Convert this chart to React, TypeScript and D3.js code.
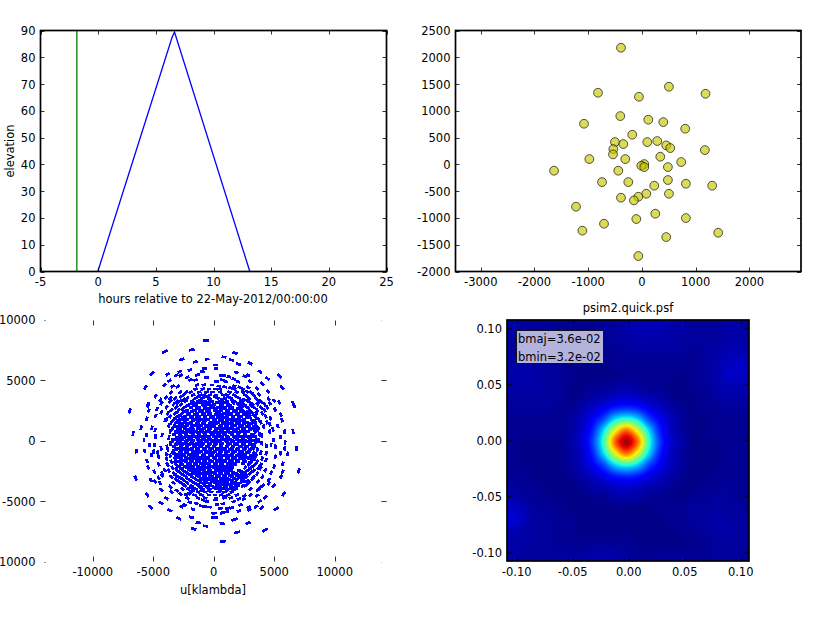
import React, { useMemo } from "react";
import * as d3 from "d3";

const elevHours = [-0.03, 6.41, 6.62, 13.15];
const elevDeg = [0, 87.5, 89.4, 0];
const markerHour = -1.85;
const elevXTicks = [-5, 0, 5, 10, 15, 20, 25];
const elevYTicks = [0, 10, 20, 30, 40, 50, 60, 70, 80, 90];

const antX = [-390, 502, -818, 1183, -56, -403, -1078, 118, 397, 805, -180, -502, -347, 99, 285, 452, 527, 1171, -533, -539, -979, -310, 341, 731, 43, -12, 43, 483, -1636, -440, 483, -743, -254, 818, 229, 1307, 502, 81, -68, -390, -149, -1227, 248, -706, -105, 818, -1109, 1419, 452, -68];
const antY = [2178, 1450, 1338, 1319, 1263, 902, 759, 834, 790, 666, 554, 417, 380, 417, 436, 355, 305, 268, 286, 187, 100, 100, 143, 44, 6, -25, -50, -50, -118, -118, -292, -330, -330, -361, -398, -398, -548, -548, -604, -622, -672, -790, -921, -1108, -1020, -1002, -1238, -1276, -1357, -1711];
const antXTicks = [-3000, -2000, -1000, 0, 1000, 2000];
const antYTicks = [-2000, -1500, -1000, -500, 0, 500, 1000, 1500, 2000, 2500];

const uvTicks = [-10000, -5000, 0, 5000, 10000];
// uv samples in thousands of klambda: sparse outskirts read one by one
const uvOuter: [number, number][] = [
  [-0.66,8.25],[-1.82,7.5],[-4.05,7.34],[-2.64,6.7],[-0.55,6.73],[-1.54,6.5],[-5.1,5.52],[-3.8,5.47],[-2.8,5.69],[-1.98,5.82],[-3.11,5.38],[-2.73,5.38],[-2.18,5.22],[-1.3,5.44],[-0.77,5.96],[-0.94,5.7],
  [-5.65,4.37],[-4.08,4.59],[-3.66,4.94],[-3.4,4.47],[-2.98,4.47],[-2.29,3.98],[-4.79,3.68],[-3.94,3.54],[-3.53,3.98],[-2.78,3.98],[-5.42,3.02],[-4.41,3.35],[-4.33,3.07],[-3.58,3.48],[-3.03,3.2],[-0.6,5.2],[-1.38,5.41],[-1.93,5],[-1.5,5],[-1.38,4.59],[-0.83,4.59],[-0.13,4.59],
  [1.76,7.23],[0.85,6.9],[1.46,6.65],[2.04,6.3],[3,6.38],[0.14,6.24],[0.17,5.94],[1.87,5.63],[3.83,5.69],[5.45,5.33],[2.84,5.39],[2.56,5.3],[4.46,5.11],[0.83,5.36],[1.24,5.27],[0.6,5.36],[1.65,5.08],[2,4.86],[3,4.89],[4.02,4.7],[5.65,4.39],[0.72,5],[0.22,4.86],[1.02,4.86],[1.7,4.5],[2.15,4.39],[2.84,4.39],[3.58,4.31],[4.49,4.03],[0.41,4.5],[0.9,4.44],[0.14,4.25],[1.38,4.36],[3.09,3.98],[3.77,3.81],[2.75,4.03],[4.55,3.43],[5,3.29],[5.4,3.15],[6.56,3.07],[4.63,3.07],[3.72,3.2],
  [-6.94,2.44],[-5.43,2.87],[-5.37,2.47],[-4.68,2.6],[-4.82,2.03],[-5.54,1.8],[-4.33,2.33],[-4,1.69],[-6,1.06],[-5.1,1.06],[-4.85,0.87],[-6.67,0.59],[-5.56,0.46],[-4.82,0.32],[-5.76,0.04],[-4.27,0.46],[-5.32,-0.37],[-4.88,-0.37],[-4.35,-0.65],[-6.39,-0.87],[-5.7,-0.87],[-4.96,-0.92],[-4.63,-1],[-3.86,-0.51],[-5.15,-1.2],[-4.55,-1.34],[-3.91,-1.14],[-5.51,-1.69],[-5.42,-2.22],[-4.55,-1.97],[-4.9,-2.58],[-4.05,-2.44],[-4.27,-2.71],[-3.86,-1.97],
  [5.07,2.55],[5.54,2.13],[6.64,2.88],[4.41,2.74],[4.68,1.83],[5.65,1.69],[4.63,1.34],[5.29,1.2],[4.13,1.14],[4.9,0.92],[5.84,0.73],[6.56,0.73],[4.63,0.73],[5.51,0.29],[3.97,0.4],[4.96,0.04],[5.9,-0.18],[3.94,-0.23],[4.35,-0.43],[4.74,-0.37],[5.1,-0.51],[6.83,-0.65],[5.87,-0.65],[5.51,-1.06],[6.12,-1.09],[4.33,-1.06],[5.1,-1.34],[4.33,-1.61],[5.7,-1.91],[4.99,-2.16],[7.02,-2.52],[3.86,-2.3],[4.27,-2.44],[5.7,-2.58],[4.74,-2.66],
  [-6.45,-3.1],[-5.2,-3.27],[-4.85,-3.4],[-4.55,-3.1],[-4.44,-3.51],[-4.27,-2.9],[-4.35,-4.09],[-5.51,-4.5],[-3.91,-4.78],[-4.35,-5.17],[-5.26,-5.5],[-3.64,-5.77],[-3.58,-3.82],[-3.5,-4.23],[-2.89,-4.95],[-3.03,-4.15],[-2.75,-4.42],[-2.67,-5.47],[-2.42,-5.33],[-2.89,-6.43],[-1.85,-6.35],[-1.29,-6.79],[-1.65,-7.31],[-0.69,-7.07],[-1.71,-5.69],[-1.98,-5.1],[-1.43,-5.2],[-2.07,-4.42],[-2.18,-4.78],[-0.88,-4.92],[-0.55,-5.06],[-1.02,-5.41],[-0.69,-5.47],[-0.36,-5.5],[-0.06,-6],[-0.06,-6.36],
  [0.77,-8.33],[1.93,-7.59],[4.24,-7.4],[2.84,-6.82],[0.69,-6.87],[1.65,-6.57],[1.79,-6.5],[0.14,-6.38],[0.06,-6],[0.69,-6],[1.1,-5.88],[2.07,-5.82],[2.95,-5.74],[5.18,-5.63],[3.5,-5.47],[3.97,-5.55],[1.1,-5.6],[0.83,-5.93],[0.55,-5.6],[5.79,-4.42],[4.27,-4.7],[3.8,-5.03],[2.89,-5.52],[2.2,-5.33],[4.96,-3.73],[5.56,-2.99],[4.55,-3.26],[4.55,-3.54],[4.05,-3.73],[3.8,-3.9],[3.66,-3.4],[4.02,-3],[3.58,-4.56],[3.66,-4.09],[3.03,-4.5],[2.53,-4.56],[2.07,-4.83],[1.65,-5.05],[2.48,-4.83],[1.52,-5.55],[0.28,-5.27],[0.74,-5.24],[1.16,-5.6],[0.14,-4.92],[0.83,-4.64],[3.03,-4],[2.75,-3.35],[3.17,-3.18],[2.62,-3.73],
];
// dense centre: scanned row by row (v, list of u), thousands of klambda
const uvRows: [number, number[]][] = [
  [4.25,[-1.5,-0.9,-0.4,0.5,1.7,2.4]],
  [4,[-1.9,-1.2,-0.6,-0.1,0.5,1.3,1.9,2.4]],
  [3.75,[-2.5,-1.7,-1.1,-0.8,-0.3,0.2,0.8,1.1,1.7,2.6,3.3]],
  [3.5,[-3.2,-2.2,-1.5,-0.9,-0.4,0.3,0.9,1.4,2.1,2.9,3.5]],
  [3.25,[-3.6,-2.8,-2.3,-1.8,-1.3,-0.7,-0.2,0.5,1.1,1.7,2.3,2.8,3.9]],
  [3,[-3.3,-2.7,-2,-1.5,-0.9,-0.5,0,0.7,1.2,2,2.5,3.2,3.6,4.2]],
  [2.75,[-3.9,-3.1,-2.4,-1.9,-1.2,-0.7,-0.2,0.4,0.9,1.5,2.2,2.7,3.3,3.9]],
  [2.5,[-3.5,-2.9,-2.2,-1.6,-1,-0.4,0.1,0.6,1.2,1.7,2.4,3,3.6,4.2]],
  [2.25,[-3.8,-3.2,-2.6,-2.1,-1.4,-0.8,-0.3,0.3,0.9,1.4,2,2.6,3.2,3.5,4]],
  [2,[-3.6,-2.9,-2.4,-1.8,-1.2,-0.7,-0.1,0.5,1.1,1.6,2.2,2.8,3.4,4.3]],
  [1.75,[-3.9,-3.3,-2.7,-2.2,-1.6,-1,-0.5,0.1,0.7,1.3,1.9,2.5,3.1,3.7]],
  [1.5,[-3.5,-3,-2.4,-1.9,-1.3,-0.8,-0.2,0.3,0.9,1.5,2.1,2.7,3.2,3.9,4.4]],
  [1.25,[-3.7,-2.8,-2.2,-1.6,-1.1,-0.5,0,0.6,1.1,1.7,2.3,2.9,3.5]],
  [1,[-3.4,-2.9,-2.4,-1.9,-1.3,-0.8,-0.3,0.3,0.8,1.4,2,2.5,3.1,3.7]],
  [0.75,[-3.6,-3.1,-2.6,-2.1,-1.5,-1,-0.5,0.1,0.6,1.2,1.7,2.3,2.8,3.4]],
  [0.5,[-3.3,-2.8,-2.3,-1.7,-1.2,-0.7,-0.1,0.4,0.9,1.5,2,2.6,3.2,3.8]],
  [0.25,[-3.7,-3,-2.5,-2,-1.4,-0.9,-0.4,0.2,0.7,1.2,1.8,2.4,2.9,3.5]],
  [0,[-3.4,-2.8,-2.2,-1.7,-1.1,-0.6,-0.1,0.4,1,1.5,2.1,2.6,3.2,3.7]],
  [-0.25,[-3.6,-3,-2.5,-1.9,-1.4,-0.9,-0.3,0.2,0.7,1.3,1.8,2.4,3,3.4]],
  [-0.5,[-3.3,-2.7,-2.2,-1.6,-1.1,-0.5,0,0.6,1.1,1.6,2.2,2.7,3.3]],
  [-0.75,[-3.8,-3.1,-2.5,-2,-1.4,-0.8,-0.3,0.3,0.8,1.4,1.9,2.5,3,3.6]],
  [-1,[-3.4,-2.8,-2.3,-1.7,-1.2,-0.6,-0.1,0.5,1,1.6,2.2,2.8,3.3,3.9]],
  [-1.25,[-3.6,-3,-2.5,-1.9,-1.4,-0.9,-0.3,0.3,0.8,1.3,1.9,2.4,3.1,3.5]],
  [-1.5,[-3.9,-3.2,-2.7,-2.1,-1.6,-1,-0.5,0.1,0.6,1.2,1.7,2.3,2.9,3.4,4]],
  [-1.75,[-3.5,-2.9,-2.3,-1.8,-1.2,-0.7,-0.2,0.4,0.9,1.5,2,2.6,3.1,3.6]],
  [-2,[-3.8,-3.1,-2.6,-2,-1.5,-0.9,-0.4,0.2,0.7,1.3,1.7,2.9,3.4,3.9]],
  [-2.25,[-3.4,-2.8,-2.2,-1.7,-1.1,-0.6,0,0.5,1,1.5,2.6,3.1,3.7]],
  [-2.5,[-3.7,-3,-2.5,-1.9,-1.4,-0.8,-0.3,0.3,0.8,1.4,2.1,2.7,3.3]],
  [-2.75,[-3.3,-2.7,-2.1,-1.6,-1,-0.5,0.1,0.6,1.2,1.8,2.4,3,3.6]],
  [-3,[-3.5,-2.9,-2.3,-1.8,-1.2,-0.7,-0.2,0.4,0.9,1.5,2.1,2.7,3.3]],
  [-3.25,[-3.1,-2.5,-2,-1.4,-0.9,-0.3,0.2,0.8,1.3,1.9,2.4]],
  [-3.5,[-3.3,-2.7,-2.2,-1.6,-1,-0.5,0.1,0.6,1.1,1.7,2.2,2.9]],
  [-3.75,[-2.4,-1.8,-1.2,-0.7,-0.2,0.4,0.9,1.4,2,2.4]],
  [-4,[-2.6,-2.1,-1.5,-0.9,-0.3,0.2,0.7,1.3,1.8]],
  [-4.25,[-1.9,-1.3,-0.7,-0.2,0.4,0.9,1.5]],
  [-4.5,[-2.3,-1.6,-1,-0.4,0.1,0.6,1.2,1.9]],
  [-4.75,[-1.3,-0.7,0.2,0.9,1.4]],
  // second pass between the rows above, where the blue is nearly solid
  [3.62,[-2.7,-1.3,-0.6,0.1,1.2,1.9]],
  [3.37,[-2.5,-1.1,-0.3,0.7,1.5,2.5]],
  [3.12,[-3,-1.7,-1.1,-0.4,0.3,0.9,1.6,2.2,3]],
  [2.87,[-2.2,-1.6,-0.8,-0.1,0.6,1.3,2.4,3.1]],
  [2.62,[-2.6,-1.4,-0.6,0.2,0.8,1.4,2,2.9]],
  [2.37,[-3,-2.4,-1.8,-1.1,-0.5,0.4,1.1,1.8,2.3,2.8]],
  [2.12,[-2.7,-2.1,-1.5,-0.9,-0.4,0.2,0.7,1.3,1.9,2.5,3]],
  [1.87,[-3.1,-2.5,-1.9,-1.4,-0.7,-0.2,0.4,0.9,1.6,2.1,2.8,3.5]],
  [1.62,[-2.9,-2.4,-1.7,-1.2,-0.7,0,0.5,1.1,1.7,2.3,3.4]],
  [1.37,[-3.2,-2.6,-2,-1.4,-0.9,-0.3,0.2,0.8,1.3,1.9,2.5,3]],
  [1.12,[-3.1,-2.5,-1.8,-1.2,-0.6,-0.1,0.5,1,1.5,2.2,2.8,3.3]],
  [0.87,[-2.8,-2.2,-1.7,-1,-0.4,0.2,0.7,1.2,1.8,2.4,3,3.6]],
  [0.62,[-3,-2.5,-1.9,-1.3,-0.8,-0.2,0.3,0.8,1.4,2.1,2.6]],
  [0.37,[-2.7,-2.1,-1.6,-1.1,-0.5,0,0.5,1.1,1.7,2.2,2.8,3.3]],
  [0.12,[-3.1,-2.6,-1.9,-1.3,-0.8,-0.3,0.2,0.8,1.3,1.9,2.4,3]],
  [-0.12,[-2.9,-2.3,-1.8,-1.2,-0.6,0,0.5,1.1,1.6,2.2,2.8,3.5]],
  [-0.37,[-3.1,-2.6,-2.1,-1.5,-1,-0.4,0.1,0.6,1.2,1.9,2.5,3.1]],
  [-0.62,[-2.9,-2.4,-1.8,-1.3,-0.7,-0.2,0.4,0.9,1.5,2,2.6,3.2]],
  [-0.87,[-3.3,-2.7,-2.2,-1.6,-1.1,-0.5,0.1,0.6,1.2,1.7,2.3,2.9]],
  [-1.12,[-3.1,-2.6,-2,-1.5,-0.8,-0.2,0.4,1,1.5,2.1,2.6,3.4]],
  [-1.37,[-2.9,-2.3,-1.7,-1.2,-0.6,0,0.5,1.1,1.6,2.2,2.7,3.2]],
  [-1.62,[-3.1,-2.5,-1.9,-1.4,-0.8,-0.3,0.3,0.8,1.4,1.9,2.5,3.2]],
  [-1.87,[-3.2,-2.7,-2.1,-1.5,-1,-0.5,0.1,0.6,1.2,1.7,2.4,2.9]],
  [-2.12,[-3,-2.4,-1.9,-1.3,-0.8,-0.2,0.3,0.9,1.4,3.3]],
  [-2.37,[-3.1,-2.6,-2,-1.5,-1,-0.4,0.2,0.7,1.2,2.9]],
  [-2.62,[-2.8,-2.3,-1.7,-1.2,-0.6,-0.1,0.5,1,1.6,2.3,3.1]],
  [-2.87,[-3.1,-2.5,-1.9,-1.4,-0.8,-0.3,0.3,0.9,1.4,2,2.6]],
  [-3.12,[-2.7,-2.2,-1.6,-1,-0.5,0,0.6,1.1,1.7,2.3]],
  [-3.37,[-2.9,-1.8,-1.2,-0.7,-0.1,0.4,0.9,1.5,2.5]],
  [-3.62,[-2.5,-1.4,-0.8,-0.3,0.3,0.8,1.3,1.9]],
  [-3.87,[-1.9,-1.1,-0.5,0,0.5,1,1.6]],
  [-4.12,[-1.7,-1,-0.4,0.5,1.1,1.6]],
];

const psfTicks = [-0.1, -0.05, 0, 0.05, 0.1];
const psfX0 = -0.1123, psfY0 = 0.1085, psfStep = 0.01;
// sampled brightness in percent, top row first
const psfGrid = [
  [4,4,3,3,3,3,2,2,2,3,3,4,5,5,5,5,4,3,3,3,4,4,4],
  [4,4,3,3,3,2,2,2,2,3,3,4,5,5,5,4,4,3,3,3,4,4,4],
  [3,3,3,3,2,2,2,1,2,2,3,3,4,4,4,4,3,3,3,3,4,4,4],
  [3,3,3,3,2,2,1,1,1,2,2,3,3,3,3,3,3,2,3,4,5,5,5],
  [3,4,4,3,3,2,1,1,1,1,2,2,2,2,2,2,2,2,3,4,6,7,6],
  [3,4,4,4,3,3,2,1,1,1,1,2,2,2,2,2,1,2,3,4,7,7,6],
  [3,4,4,4,3,3,1,1,2,2,3,4,3,2,2,1,1,2,2,4,5,5,5],
  [3,3,3,3,3,3,1,2,4,5,7,8,7,5,4,2,1,1,2,3,4,4,4],
  [2,3,3,3,3,2,2,4,7,11,16,18,16,11,7,4,2,1,2,2,3,3,3],
  [2,2,2,2,2,2,3,6,12,21,36,43,36,21,12,6,3,1,1,2,2,2,2],
  [2,2,2,2,2,2,3,7,16,36,63,81,63,36,16,7,3,1,1,2,2,2,2],
  [2,2,1,1,1,1,4,8,19,43,81,100,81,43,19,8,4,1,1,1,2,2,2],
  [2,2,1,1,1,1,3,7,16,36,63,81,63,36,16,7,3,1,1,1,2,2,2],
  [2,2,1,1,1,1,3,6,12,21,36,43,36,21,12,6,3,1,1,1,2,2,2],
  [2,2,2,1,1,1,2,4,7,11,16,18,16,11,7,4,2,1,1,2,2,2,2],
  [3,3,2,2,1,1,1,2,4,5,7,8,7,5,4,2,1,1,2,2,3,2,2],
  [4,4,3,2,2,1,1,1,2,2,4,4,4,2,2,1,1,2,2,3,3,2,2],
  [7,7,5,3,2,2,1,1,1,1,1,1,1,1,2,2,2,3,3,3,3,3,2],
  [8,8,5,3,3,2,2,1,1,1,1,1,1,1,1,2,2,3,3,4,4,3,3],
  [5,5,4,3,3,2,2,1,1,1,1,1,1,1,1,1,2,2,3,3,4,3,3],
  [4,4,4,3,3,2,2,2,2,2,2,2,1,1,1,1,1,2,2,3,3,3,3],
  [4,4,3,3,3,3,3,3,4,4,4,3,2,2,2,2,2,2,2,3,3,3,3],
  [3,3,3,3,3,4,4,5,5,5,4,3,3,3,3,4,4,4,3,3,3,3,3],
];
const jetStops = [0, 0.11, 0.125, 0.35, 0.375, 0.64, 0.66, 0.89, 0.91, 1];
const jetColors = ["#00007f", "#0000f1", "#0000ff", "#00e0fb", "#19ffde", "#fff200", "#ffd800", "#f60b00", "#e80000", "#7f0000"];

const FONT = "'DejaVu Sans', sans-serif";
const FS = 11.5;
const box1 = { l: 40.5, r: 386.5, t: 30.5, b: 271.5 };
const box2 = { l: 455.5, r: 801, t: 30.5, b: 271.5 };
const box3 = { l: 40.5, r: 386.5, t: 320.5, b: 561.5 };
const box4 = { l: 507, r: 749, t: 320, b: 561 };

type Box = typeof box1;
type S = d3.ScaleLinear<number, number>;

function Ticks({ box, x, y, xt, yt, fmt, frame = true, len = 4 }: { box: Box; x: S; y: S; xt: number[]; yt: number[]; fmt?: (v: number) => string; frame?: boolean; len?: number }) {
  const f = fmt || ((v: number) => String(v));
  const xs = xt.map((v) => Math.round(x(v)) + 0.5);
  const ys = yt.map((v) => Math.round(y(v)) + 0.5);
  return (
    <g>
      {frame && <rect x={box.l} y={box.t} width={box.r - box.l} height={box.b - box.t} fill="none" stroke="#000" strokeWidth={1.7} />}
      <g stroke="#000" strokeWidth={0.8}>
        {xs.map((p, i) => (
          <g key={i}>
            <line x1={p} x2={p} y1={box.b} y2={box.b - len} />
            <line x1={p} x2={p} y1={box.t} y2={box.t + len} />
          </g>
        ))}
        {ys.map((p, i) => (
          <g key={i}>
            <line x1={box.l} x2={box.l + len} y1={p} y2={p} />
            <line x1={box.r} x2={box.r - len} y1={p} y2={p} />
          </g>
        ))}
      </g>
      <g fontFamily={FONT} fontSize={FS} fill="#000">
        {xt.map((v, i) => (
          <text key={i} x={x(v)} y={box.b + 14.5} textAnchor="middle">{f(v)}</text>
        ))}
        {yt.map((v, i) => (
          <text key={i} x={box.l - 5} y={y(v) + 4.5} textAnchor="end">{f(v)}</text>
        ))}
      </g>
    </g>
  );
}

function catmull(p0: number, p1: number, p2: number, p3: number, t: number) {
  return 0.5 * (2 * p1 + (p2 - p0) * t + (2 * p0 - 5 * p1 + 4 * p2 - p3) * t * t + (3 * p1 - p0 - 3 * p2 + p3) * t * t * t);
}

function psfImage(x: S, y: S, box: Box) {
  const w = box.r - box.l, h = box.b - box.t;
  const c = document.createElement("canvas");
  c.width = w; c.height = h;
  const ctx = c.getContext("2d")!;
  const img = ctx.createImageData(w, h);
  const jet = d3.scaleLinear<string>().domain(jetStops).range(jetColors).clamp(true);
  const n = psfGrid.length, m = psfGrid[0].length;
  const at = (r: number, q: number) => psfGrid[Math.max(0, Math.min(n - 1, r))][Math.max(0, Math.min(m - 1, q))];
  for (let py = 0; py < h; py++) {
    const gy = (psfY0 - y.invert(box.t + py + 0.5)) / psfStep;
    const r = Math.floor(gy), ty = gy - r;
    for (let px = 0; px < w; px++) {
      const gx = (x.invert(box.l + px + 0.5) - psfX0) / psfStep;
      const q = Math.floor(gx), tx = gx - q;
      const rows = [-1, 0, 1, 2].map((d) => catmull(at(r + d, q - 1), at(r + d, q), at(r + d, q + 1), at(r + d, q + 2), tx));
      const v = catmull(rows[0], rows[1], rows[2], rows[3], ty);
      const col = d3.rgb(jet(v / 103));
      const o = (py * w + px) * 4;
      img.data[o] = col.r; img.data[o + 1] = col.g; img.data[o + 2] = col.b; img.data[o + 3] = 255;
    }
  }
  ctx.putImageData(img, 0, 0);
  return c.toDataURL();
}

export default function App() {
  const x1 = d3.scaleLinear().domain([-5, 25]).range([box1.l, box1.r]);
  const y1 = d3.scaleLinear().domain([0, 90]).range([box1.b, box1.t]);
  const line1 = d3.line<number>().x((_, i) => x1(elevHours[i])).y((d) => y1(d));

  const x2 = d3.scaleLinear().domain([-3470, 2960]).range([box2.l, box2.r]);
  const y2 = d3.scaleLinear().domain([-2000, 2500]).range([box2.b, box2.t]);

  const x3 = d3.scaleLinear().domain([-14320, 14280]).range([box3.l, box3.r]);
  const y3 = d3.scaleLinear().domain([-10000, 10000]).range([561.5, 319.5]);
  const uvAll: [number, number][] = [...uvOuter, ...uvRows.flatMap(([v, us]) => us.map((u) => [u, v] as [number, number]))];
  const uvCore = d3.path();
  const uvRim = d3.path();
  uvAll.forEach(([u, v]) => {
    const px = x3(u * 1000), py = y3(v * 1000);
    const dx = px - x3(0), dy = py - y3(0);
    const r = Math.hypot(dx, dy) || 1;
    if (Math.hypot(u, v) < 3.4) {
      uvCore.moveTo(px - 2.2, py);
      uvCore.lineTo(px + 2.2, py);
    } else {
      const half = Math.max(2.2, r * 0.03);
      uvRim.moveTo(px + (dy / r) * half, py - (dx / r) * half);
      uvRim.lineTo(px - (dy / r) * half, py + (dx / r) * half);
    }
  });

  const x4 = d3.scaleLinear().domain([-0.1, 0.1]).range([516.7, 740.7]);
  const y4 = d3.scaleLinear().domain([-0.1, 0.1]).range([552, 328.3]);
  const href = useMemo(() => psfImage(x4, y4, box4), []);
  const f2 = (v: number) => v.toFixed(2);

  return (
    <svg width={817} height={617} style={{ position: "absolute", left: 0, top: 0, background: "#fff" }}>
      {/* elevation */}
      <path d={line1(elevDeg) || ""} fill="none" stroke="#0000ff" strokeWidth={1.3} />
      <line x1={x1(markerHour)} x2={x1(markerHour)} y1={box1.t} y2={box1.b} stroke="#008000" strokeWidth={1.3} />
      <Ticks box={box1} x={x1} y={y1} xt={elevXTicks} yt={elevYTicks} />
      <text x={213} y={303} textAnchor="middle" fontFamily={FONT} fontSize={FS}>hours relative to 22-May-2012/00:00:00</text>
      <text transform="translate(14,151) rotate(-90)" textAnchor="middle" fontFamily={FONT} fontSize={FS}>elevation</text>

      {/* antennas */}
      {antX.map((a, i) => (
        <circle key={i} cx={x2(a)} cy={y2(antY[i])} r={4.4} fill="#c8c800" fillOpacity={0.65} stroke="#000" strokeOpacity={0.65} strokeWidth={1} />
      ))}
      <Ticks box={box2} x={x2} y={y2} xt={antXTicks} yt={antYTicks} />

      {/* uv */}
      <path d={uvRim.toString()} fill="none" stroke="#0000ff" strokeWidth={2.8} shapeRendering="crispEdges" />
      <path d={uvCore.toString()} fill="none" stroke="#0000ff" strokeWidth={3} shapeRendering="crispEdges" />
      <Ticks box={box3} x={x3} y={y3} xt={uvTicks} yt={uvTicks} frame={false} len={5} />
      <rect x={box3.l - 1} y={316} width={5} height={8} fill="#fff" />
      <rect x={box3.l - 1} y={557} width={5} height={8} fill="#fff" />
      <rect x={box3.r - 5} y={316} width={7} height={8} fill="#fff" />
      <rect x={box3.r - 5} y={557} width={7} height={8} fill="#fff" />
      <text x={213} y={594} textAnchor="middle" fontFamily={FONT} fontSize={FS}>u[klambda]</text>
      <text transform="translate(-2,440.5) rotate(-90)" textAnchor="middle" fontFamily={FONT} fontSize={FS}>v[klambda]</text>

      {/* psf */}
      <image href={href} x={box4.l} y={box4.t} width={box4.r - box4.l} height={box4.b - box4.t} />
      <Ticks box={box4} x={x4} y={y4} xt={psfTicks} yt={psfTicks} fmt={f2} />
      <text x={628} y={312} textAnchor="middle" fontFamily={FONT} fontSize={FS}>psim2.quick.psf</text>
      <rect x={516.5} y={330.5} width={87} height={33} fill="#fff" fillOpacity={0.7} stroke="#000" strokeWidth={0.8} />
      <text x={518} y={342.5} fontFamily={FONT} fontSize={FS}>bmaj=3.6e-02</text>
      <text x={518} y={361} fontFamily={FONT} fontSize={FS}>bmin=3.2e-02</text>
    </svg>
  );
}
